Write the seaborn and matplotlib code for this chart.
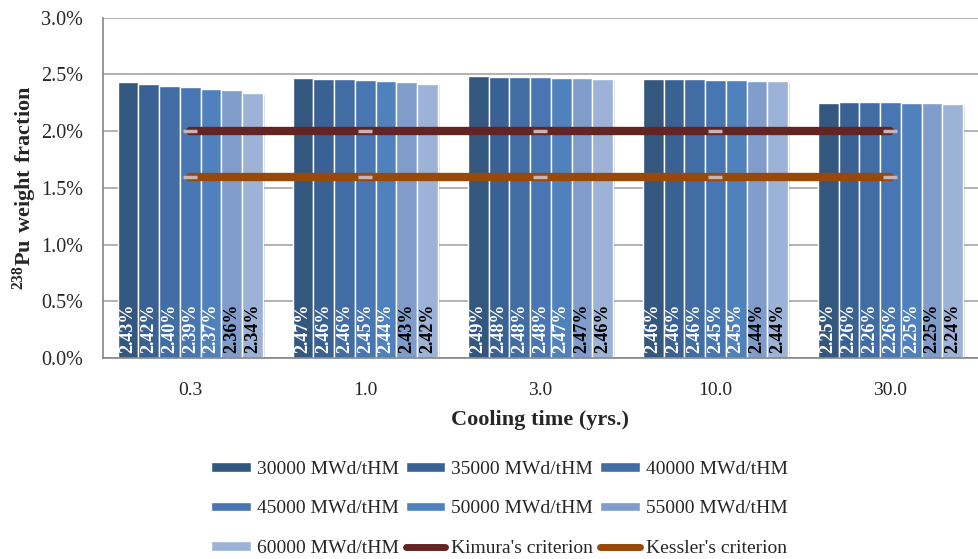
import numpy as np
import pandas as pd
import matplotlib
matplotlib.use("Agg")
import matplotlib.pyplot as plt
import matplotlib.patheffects as pe
from matplotlib.patches import Patch
from matplotlib.lines import Line2D
import seaborn as sns

# Cooling-time categories and burnup series (Pu-238 weight fraction, %)
cooling_times = ["0.3", "1.0", "3.0", "10.0", "30.0"]
burnups = ["30000 MWd/tHM", "35000 MWd/tHM", "40000 MWd/tHM", "45000 MWd/tHM",
           "50000 MWd/tHM", "55000 MWd/tHM", "60000 MWd/tHM"]
bu_30000 = [2.43, 2.47, 2.49, 2.46, 2.25]
bu_35000 = [2.42, 2.46, 2.48, 2.46, 2.26]
bu_40000 = [2.40, 2.46, 2.48, 2.46, 2.26]
bu_45000 = [2.39, 2.45, 2.48, 2.45, 2.26]
bu_50000 = [2.37, 2.44, 2.47, 2.45, 2.25]
bu_55000 = [2.36, 2.43, 2.47, 2.44, 2.25]
bu_60000 = [2.34, 2.42, 2.46, 2.44, 2.24]
kimura = [2.0, 2.0, 2.0, 2.0, 2.0]
kessler = [1.6, 1.6, 1.6, 1.6, 1.6]

series = [bu_30000, bu_35000, bu_40000, bu_45000, bu_50000, bu_55000, bu_60000]
colors = ["#34577f", "#3a6194", "#416ca4", "#4776b2", "#4f81bd", "#7f9ccb", "#9cb2d6"]

df = pd.DataFrame({
    "cooling": np.repeat([cooling_times], len(burnups), axis=0).ravel(),
    "burnup": np.repeat(burnups, len(cooling_times)),
    "value": np.concatenate(series),
})

sns.set_theme(style="white")
plt.rcParams["font.family"] = ["Liberation Serif", "DejaVu Serif"]
plt.rcParams["mathtext.fontset"] = "custom"
plt.rcParams["mathtext.rm"] = "Liberation Serif"
plt.rcParams["mathtext.bf"] = "Liberation Serif:bold"

fig = plt.figure(figsize=(9.79, 5.59), dpi=100)
ax = fig.add_axes([0.105, 0.3596, 0.894, 0.6086])

sns.barplot(data=df, x="cooling", y="value", hue="burnup", order=cooling_times,
            hue_order=burnups, palette=colors, saturation=1, width=0.83, ax=ax,
            edgecolor="white", linewidth=1.0, legend=False, zorder=2)

for p in ax.patches:
    p.set_path_effects([pe.SimplePatchShadow(offset=(1.5, -1.5), alpha=0.18), pe.Normal()])

# value labels along the base of each bar
for i, container in enumerate(ax.containers):
    txt_color = "white" if i < 5 else "black"
    for bar, v in zip(container, series[i]):
        cx = bar.get_x() + bar.get_width() / 2
        ax.text(cx, 0.045, f"{v:.2f}%", rotation=90, ha="center", va="bottom",
                fontsize=13, fontweight="bold", color=txt_color, zorder=5)

xpos = np.arange(len(cooling_times))
line_kw = dict(lw=6, solid_capstyle="round", marker="_", markersize=10,
               markeredgewidth=2.5, markeredgecolor="#c9b3b3", zorder=4)
ax.plot(xpos, kimura, color="#632523", **line_kw)
ax.plot(xpos, kessler, color="#984807", **line_kw)

ax.set_ylim(0, 3.0)
ax.set_yticks(np.arange(0, 3.01, 0.5))
ax.set_yticklabels([f"{t:.1f}%" for t in np.arange(0, 3.01, 0.5)], fontsize=14.5)
ax.set_xlim(-0.5, len(cooling_times) - 0.5)
ax.set_xticks(xpos)
ax.set_xticklabels(cooling_times, fontsize=14)
ax.tick_params(axis="x", length=0, pad=17)
ax.set_xticks(np.arange(0.5, len(cooling_times) - 0.5), minor=True)
ax.tick_params(axis="x", which="minor", length=6, color="#868686", direction="out")
ax.tick_params(axis="y", length=5, color="#868686", direction="out", pad=9)
ax.grid(axis="y", color="#a6a6a6", lw=1.2, zorder=0)
ax.set_axisbelow(True)
for side in ["top", "right"]:
    ax.spines[side].set_visible(False)
for side in ["left", "bottom"]:
    ax.spines[side].set_color("#868686")
    ax.spines[side].set_linewidth(1.2)

ax.set_xlabel("Cooling time (yrs.)", fontsize=16, fontweight="bold", labelpad=8)
ax.set_ylabel(r"$\mathbf{^{238}Pu\ weight\ fraction}$", fontsize=16, labelpad=2)

handles = [Patch(facecolor=c, edgecolor="white") for c in colors]
handles += [Line2D([0], [0], color="#632523", lw=5, solid_capstyle="round"),
            Line2D([0], [0], color="#984807", lw=5, solid_capstyle="round")]
labels = burnups + ["Kimura's criterion", "Kessler's criterion"]
order = [0, 3, 6, 1, 4, 7, 2, 5, 8]
fig.legend([handles[k] for k in order], [labels[k] for k in order],
           loc="upper center", bbox_to_anchor=(0.51, 0.176), borderpad=0,
           borderaxespad=0, ncol=3, frameon=False, fontsize=14,
           handlelength=2.05, handleheight=0.4, handletextpad=0.3,
           columnspacing=0.36, labelspacing=1.17)

fig.savefig("out.png", dpi=100)
